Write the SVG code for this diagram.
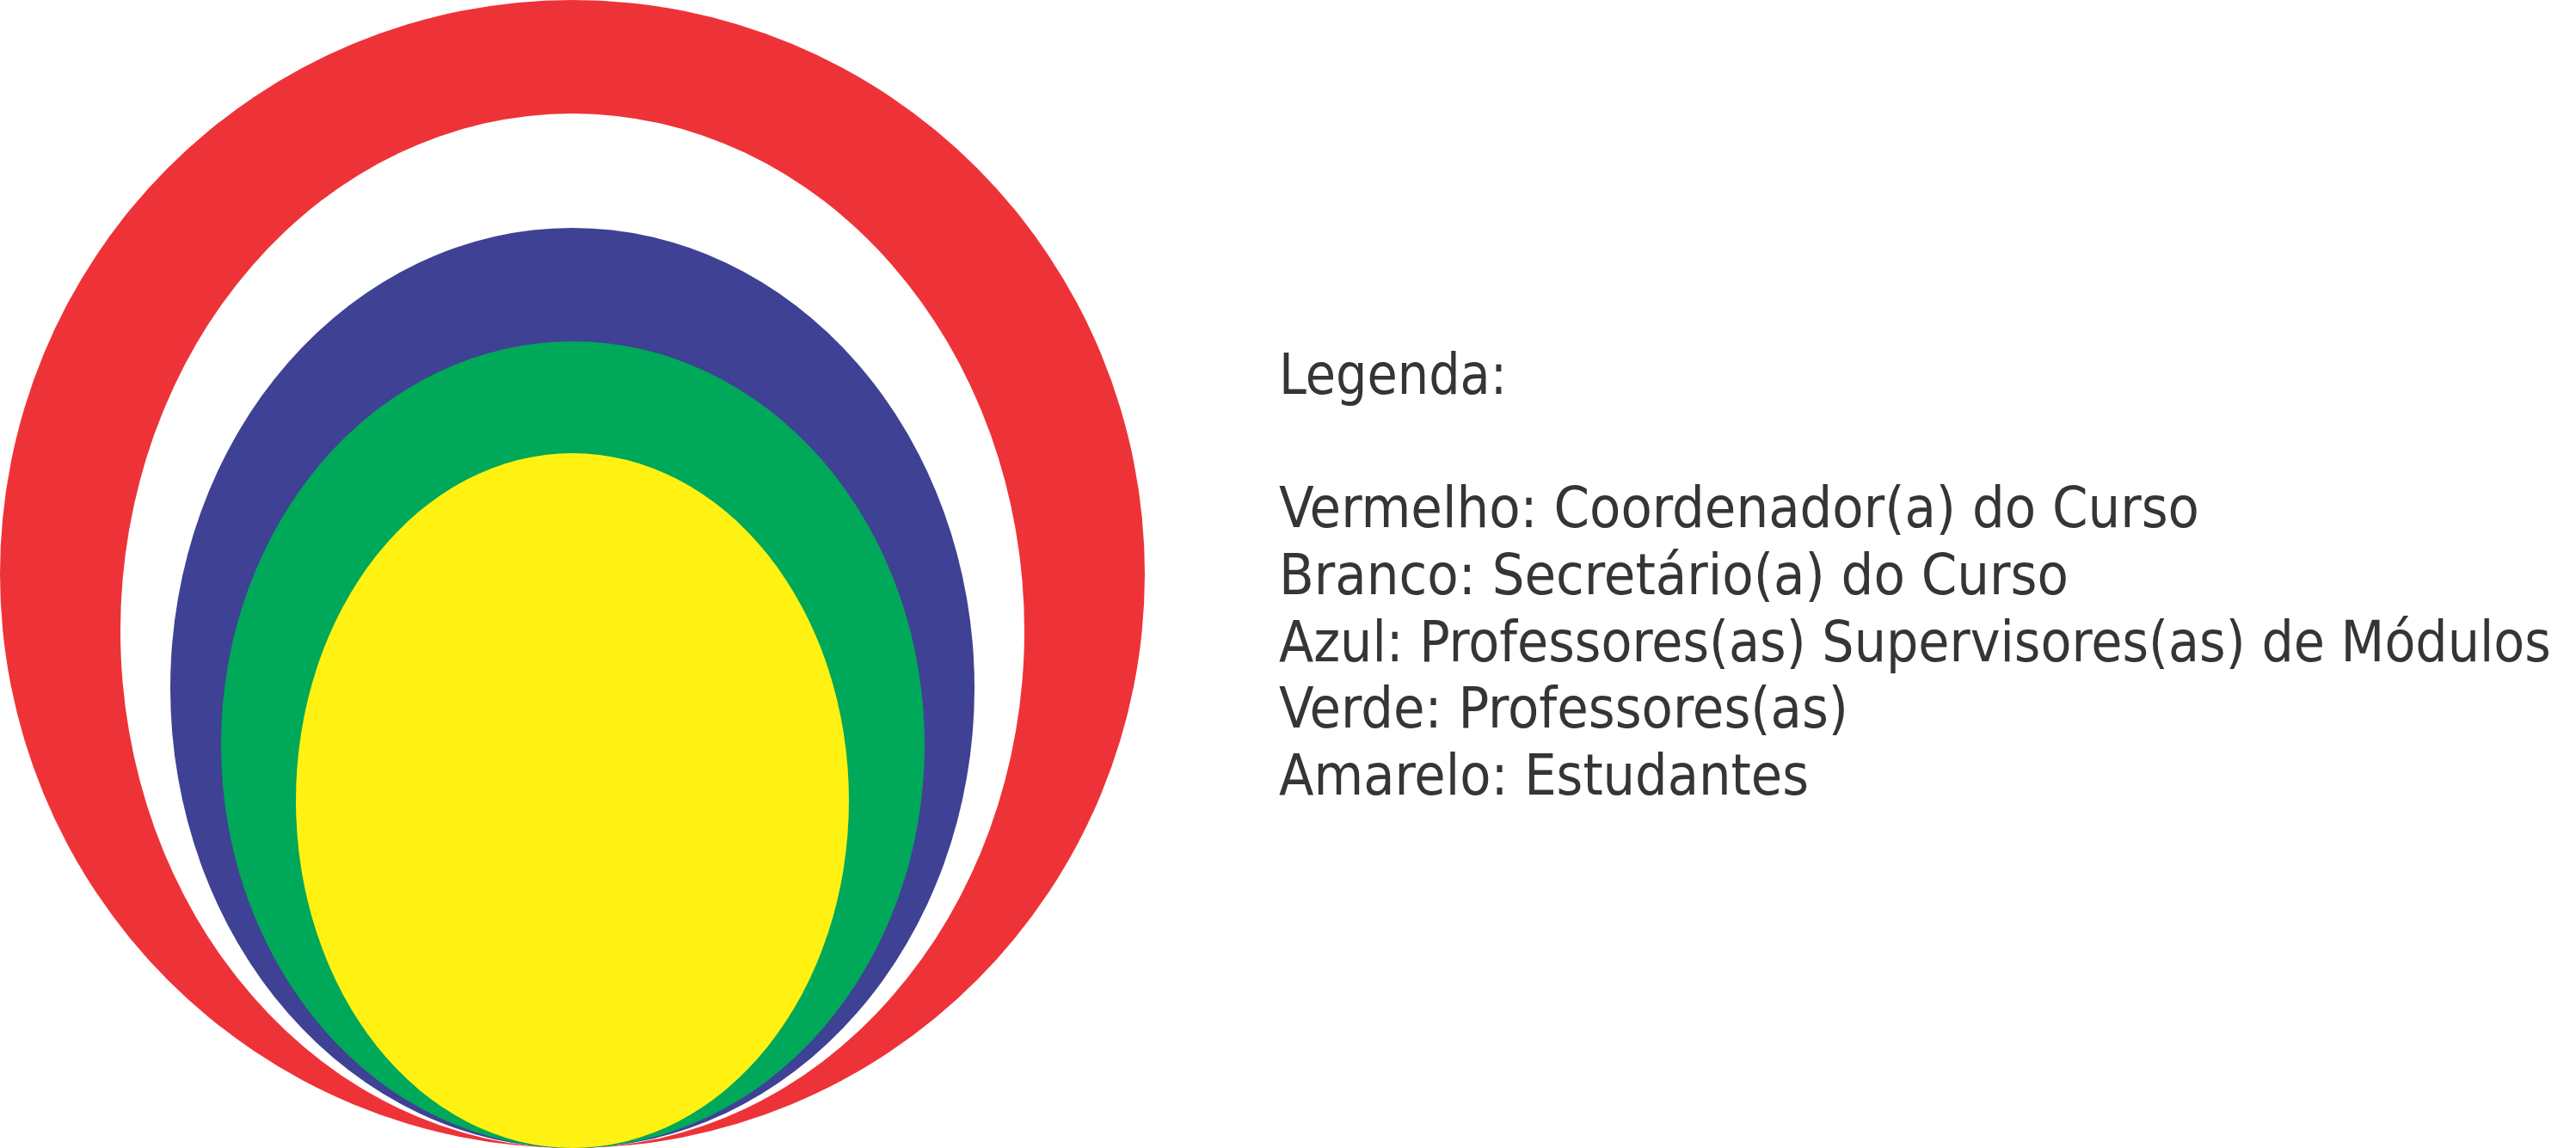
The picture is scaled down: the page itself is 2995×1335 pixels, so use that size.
<svg xmlns="http://www.w3.org/2000/svg" width="2995" height="1335" viewBox="0 0 2995 1335">
<style>
.t{font-family:"DejaVu Sans Condensed","DejaVu Sans",sans-serif;font-size:65px;fill:#353535;}
</style>
<rect width="2995" height="1335" fill="#ffffff"/>
<g id="red"><ellipse cx="665.5" cy="667.5" rx="665.5" ry="667.5" fill="#EE3338"/></g>
<g id="white"><ellipse cx="665.5" cy="733.5" rx="525.5" ry="601.5" fill="#ffffff"/></g>
<g id="blue"><ellipse cx="665.5" cy="800" rx="467.5" ry="535" fill="#3F4194"/></g>
<g id="green"><ellipse cx="666" cy="866" rx="409" ry="469" fill="#00A859"/></g>
<g id="yellow"><ellipse cx="665.5" cy="931" rx="321.5" ry="404" fill="#FFF212"/></g>
<g id="legend">
<text class="t" x="1487" y="458" textLength="265" lengthAdjust="spacingAndGlyphs">Legenda:</text>
<text class="t" x="1487" y="613" textLength="1070" lengthAdjust="spacingAndGlyphs">Vermelho: Coordenador(a) do Curso</text>
<text class="t" x="1487" y="691" textLength="918" lengthAdjust="spacingAndGlyphs">Branco: Secretário(a) do Curso</text>
<text class="t" x="1487" y="769" textLength="1479" lengthAdjust="spacingAndGlyphs">Azul: Professores(as) Supervisores(as) de Módulos</text>
<text class="t" x="1487" y="846" textLength="662" lengthAdjust="spacingAndGlyphs">Verde: Professores(as)</text>
<text class="t" x="1487" y="924" textLength="616" lengthAdjust="spacingAndGlyphs">Amarelo: Estudantes</text>
</g>
<g id="connectors"/>
</svg>
